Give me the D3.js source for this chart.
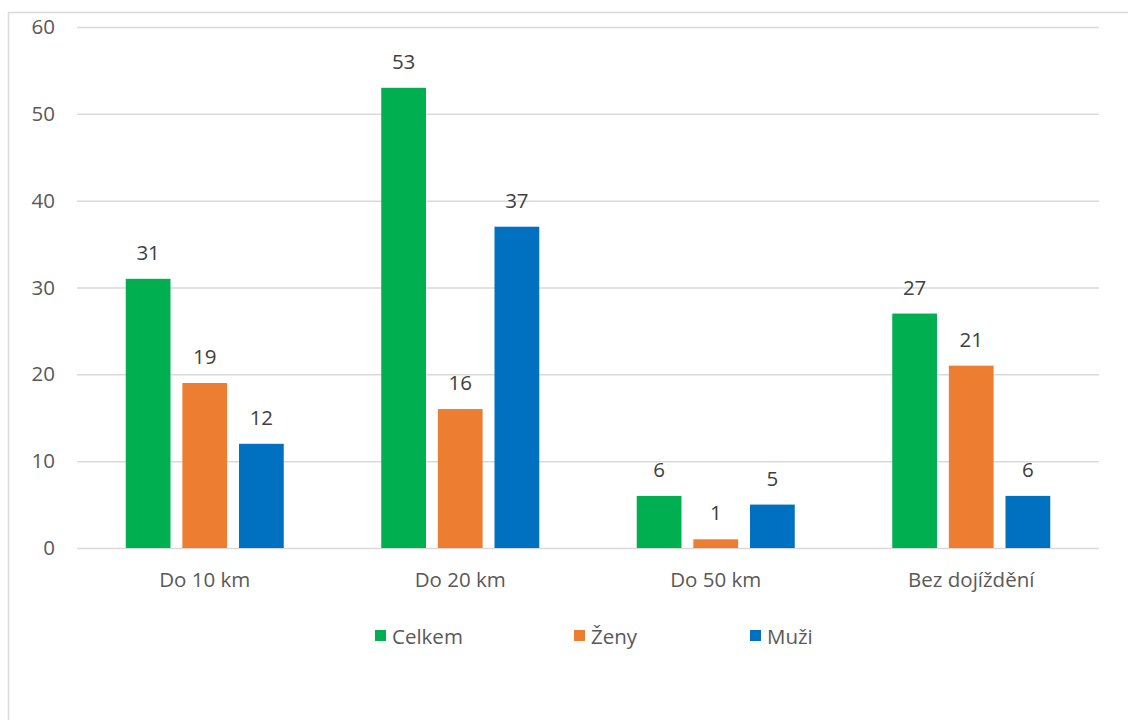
<!DOCTYPE html>
<html><head><meta charset="utf-8">
<script src="https://cdn.jsdelivr.net/npm/d3@7"></script>
<style>body{margin:0;background:#fff}svg{display:block}</style>
</head><body>
<script>
const categories = ["Do 10 km", "Do 20 km", "Do 50 km", "Bez dojíždění"];
const seriesNames = ["Celkem", "Ženy", "Muži"];
const celkem = [31, 53, 6, 27];
const zeny = [19, 16, 1, 21];
const muzi = [12, 37, 5, 6];
const yTicks = [0, 10, 20, 30, 40, 50, 60];
const colors = ["#00B050", "#ED7D31", "#0070C0"];

const W = 1128, H = 720;
const svg = d3.select("body").append("svg").attr("width", W).attr("height", H);
const font = "'Open Sans', sans-serif";
const fs = "20.5px";

// chart border
svg.append("rect").attr("x", 8.5).attr("y", 12.5).attr("width", W + 20).attr("height", H + 20)
  .attr("fill", "none").attr("stroke", "#D9D9D9").attr("stroke-width", 1.5);

const x0 = 77, x1 = 1099, yTop = 27, yBot = 548;
const x = d3.scaleBand().domain(categories).range([x0, x1]);
const y = d3.scaleLinear().domain([0, 60]).range([yBot, yTop]);
const xs = d3.scaleBand().domain(seriesNames).range([0, 158]).paddingInner(0.21);

// gridlines via axis
const gy = svg.append("g").attr("transform", `translate(${x0},0)`)
  .call(d3.axisLeft(y).tickValues(yTicks).tickSize(-(x1 - x0)).tickPadding(22).tickFormat(d3.format("d")));
gy.select(".domain").remove();
gy.selectAll(".tick line").attr("stroke", "#D9D9D9").attr("stroke-width", 1.5);
gy.selectAll(".tick text").attr("fill", "#595959").style("font-family", font).style("font-size", fs);

const data = [celkem, zeny, muzi];
const g = svg.append("g");
categories.forEach((c, i) => {
  const gx = x(c) + x.bandwidth() / 2 - 79;
  seriesNames.forEach((s, j) => {
    const v = data[j][i];
    g.append("rect").attr("x", gx + xs(s)).attr("y", y(v)).attr("width", xs.bandwidth())
      .attr("height", yBot - y(v)).attr("fill", colors[j]);
    g.append("text").attr("x", gx + xs(s) + xs.bandwidth() / 2).attr("y", y(v) - 19)
      .attr("text-anchor", "middle").attr("fill", "#404040")
      .style("font-family", font).style("font-size", fs).text(v);
  });
});

// x axis labels
const gxAxis = svg.append("g").attr("transform", `translate(0,${yBot})`)
  .call(d3.axisBottom(x).tickSize(0).tickPadding(24));
gxAxis.select(".domain").remove();
gxAxis.selectAll(".tick text").attr("fill", "#595959").style("font-family", font).style("font-size", fs);

// legend
const legX = [375, 574, 750];
seriesNames.forEach((s, j) => {
  svg.append("rect").attr("x", legX[j]).attr("y", 630).attr("width", 11).attr("height", 11).attr("fill", colors[j]);
  svg.append("text").attr("x", legX[j] + 17).attr("y", 644).attr("fill", "#595959")
    .style("font-family", font).style("font-size", fs).text(s);
});
</script>
</body></html>
